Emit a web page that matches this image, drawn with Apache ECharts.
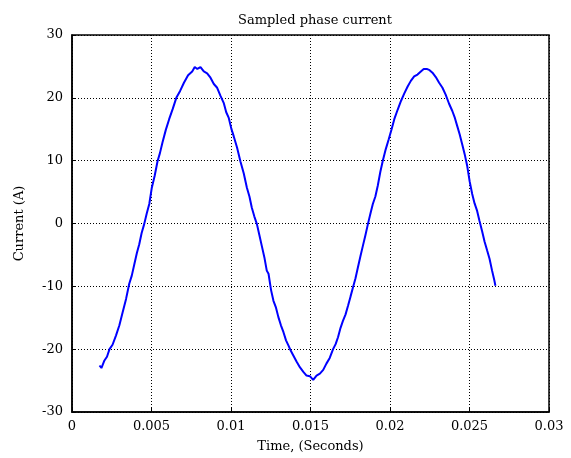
<!DOCTYPE html>
<html><head><meta charset="utf-8">
<script src="https://cdn.jsdelivr.net/npm/echarts@6/dist/echarts.min.js"></script>
<style>html,body{margin:0;padding:0;background:#fff}#c{width:571px;height:458px}</style>
</head><body><div id="c"></div>
<script>
var timeValues = [0.00173,0.00185,0.00204,0.00220,0.00236,0.00255,0.00277,0.00298,0.00319,0.00340,0.00360,0.00376,0.00392,0.00408,0.00423,0.00438,0.00454,0.00470,0.00486,0.00502,0.00520,0.00538,0.00553,0.00569,0.00590,0.00611,0.00633,0.00656,0.00680,0.00704,0.00730,0.00756,0.00772,0.00788,0.00808,0.00829,0.00850,0.00871,0.00892,0.00913,0.00934,0.00954,0.00970,0.00986,0.01002,0.01017,0.01038,0.01059,0.01080,0.01100,0.01116,0.01131,0.01147,0.01163,0.01178,0.01194,0.01210,0.01225,0.01236,0.01252,0.01267,0.01283,0.01298,0.01314,0.01330,0.01346,0.01361,0.01377,0.01392,0.01413,0.01434,0.01455,0.01475,0.01496,0.01517,0.01538,0.01559,0.01580,0.01600,0.01621,0.01642,0.01658,0.01673,0.01689,0.01704,0.01720,0.01736,0.01752,0.01767,0.01783,0.01798,0.01814,0.01829,0.01845,0.01861,0.01877,0.01892,0.01908,0.01923,0.01939,0.01954,0.01973,0.01992,0.02010,0.02027,0.02048,0.02069,0.02090,0.02111,0.02131,0.02152,0.02173,0.02194,0.02212,0.02231,0.02249,0.02267,0.02288,0.02309,0.02330,0.02350,0.02371,0.02392,0.02408,0.02423,0.02438,0.02454,0.02470,0.02486,0.02501,0.02517,0.02532,0.02548,0.02563,0.02579,0.02595,0.02611,0.02626,0.02642,0.02655,0.02663];
var currentValues = [-22.6,-23.0,-21.8,-21.2,-20.0,-19.3,-17.8,-16.2,-14.1,-12.0,-9.6,-8.3,-6.5,-4.7,-3.3,-1.5,-0.1,1.6,3.1,5.7,7.6,9.9,11.2,12.9,14.9,16.6,18.2,20.0,21.1,22.4,23.6,24.2,24.9,24.6,24.9,24.2,23.9,23.2,22.2,21.6,20.3,19.2,17.7,16.8,15.1,13.9,12.1,9.9,8.0,5.7,4.3,2.5,1.1,-0.1,-1.8,-3.6,-5.4,-7.5,-8.0,-10.6,-12.3,-13.4,-14.9,-16.2,-17.3,-18.6,-19.4,-20.3,-21.0,-22.0,-22.9,-23.6,-24.2,-24.3,-24.9,-24.2,-23.9,-23.3,-22.3,-21.4,-20.0,-19.2,-18.1,-16.6,-15.5,-14.5,-13.1,-11.6,-10.2,-8.7,-7.0,-5.2,-3.6,-1.9,-0.1,1.6,3.1,4.3,6.0,8.2,9.9,11.8,13.4,15.0,16.6,18.1,19.5,20.7,21.8,22.7,23.4,23.7,24.2,24.6,24.6,24.4,24.0,23.3,22.4,21.6,20.5,19.1,17.9,16.8,15.5,14.2,12.6,11.0,9.1,6.7,4.7,3.2,2.0,0.4,-1.2,-2.9,-4.3,-5.6,-7.5,-8.9,-9.9];
var xTickLabels = ['0','0.005','0.01','0.015','0.02','0.025','0.03'];
var yTickLabels = ['-30','-20','-10','0','10','20','30'];

var data = timeValues.map(function(t,i){return [t,currentValues[i]];});
var chart = echarts.init(document.getElementById('c'));
var serif = 'DejaVu Serif';
chart.setOption({
  animation:false,
  backgroundColor:'#fff',
  title:{text:'Sampled phase current',left:310,top:9,textAlign:'center',
    textStyle:{fontFamily:serif,fontSize:13,fontWeight:'normal',color:'#000'}},
  grid:{left:72,right:22,top:35,bottom:45,show:true,borderColor:'#000',borderWidth:1.5,backgroundColor:'#fff'},
  xAxis:{type:'value',min:0,max:0.03,interval:0.005,
    name:'Time, (Seconds)',nameLocation:'middle',nameGap:28,
    nameTextStyle:{fontFamily:serif,fontSize:13,color:'#000'},
    axisLine:{show:true,onZero:false,lineStyle:{color:'#000',width:1.5}},
    axisTick:{show:true,inside:true,length:4,lineStyle:{color:'#000'}},
    axisLabel:{fontFamily:serif,fontSize:13,color:'#000',margin:8,
      formatter:function(v){return xTickLabels[Math.round(v/0.005)];}},
    splitLine:{show:true,lineStyle:{color:'#000',type:[1,2],width:1}}},
  yAxis:{type:'value',min:-30,max:30,interval:10,
    name:'Current (A)',nameLocation:'middle',nameGap:46,nameRotate:90,
    nameTextStyle:{fontFamily:serif,fontSize:13,color:'#000'},
    axisLine:{show:true,lineStyle:{color:'#000',width:1.5}},
    axisTick:{show:true,inside:true,length:4,lineStyle:{color:'#000'}},
    axisLabel:{fontFamily:serif,fontSize:13,color:'#000',margin:9,
      formatter:function(v){return yTickLabels[Math.round((v+30)/10)];}},
    splitLine:{show:true,lineStyle:{color:'#000',type:[1,2],width:1}}},
  series:[{type:'line',data:data,showSymbol:false,
    lineStyle:{color:'#0000ff',width:2},itemStyle:{color:'#0000ff'}}]
});
</script></body></html>
